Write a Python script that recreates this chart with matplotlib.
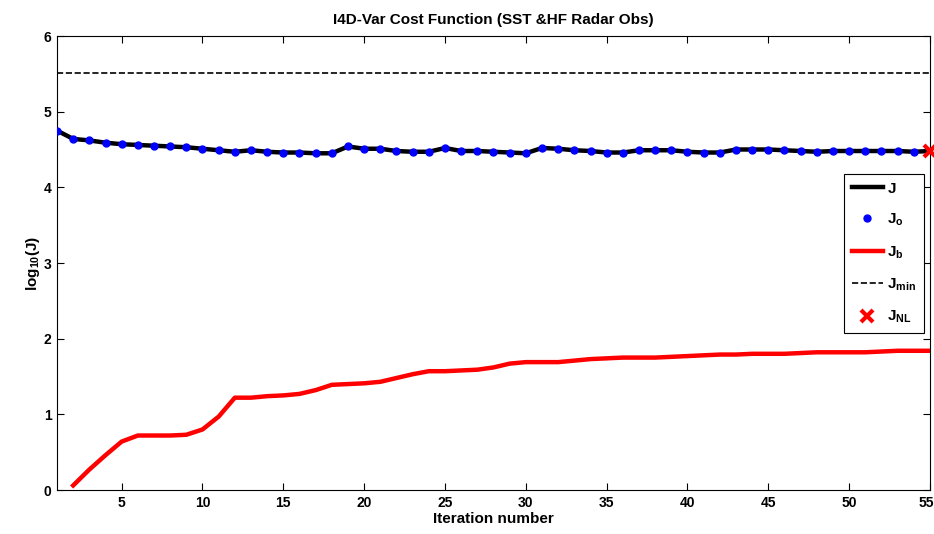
import matplotlib
matplotlib.use("Agg")
import matplotlib.pyplot as plt
from matplotlib import font_manager
import matplotlib.transforms as mtransforms

fams = {f.name for f in font_manager.fontManager.ttflist}
base = "Liberation Sans Narrow" if "Liberation Sans Narrow" in fams else "Liberation Sans"
plt.rcParams['font.family'] = [base, 'DejaVu Sans']
plt.rcParams['font.weight'] = 'bold'
plt.rcParams['mathtext.fontset'] = 'custom'
plt.rcParams['mathtext.rm'] = base + ':bold'
plt.rcParams['mathtext.it'] = base + ':bold'
plt.rcParams['mathtext.bf'] = base + ':bold'
plt.rcParams['mathtext.default'] = 'rm'

# ---- data ----
iterations = list(range(1, 56))
J = [4.75, 4.64, 4.62, 4.59, 4.57, 4.56, 4.55, 4.54, 4.53, 4.51,
     4.49, 4.47, 4.49, 4.47, 4.46, 4.46, 4.45, 4.45, 4.54, 4.51,
     4.51, 4.48, 4.47, 4.47, 4.52, 4.48, 4.48, 4.47, 4.46, 4.45,
     4.52, 4.51, 4.49, 4.48, 4.46, 4.46, 4.49, 4.49, 4.49, 4.47,
     4.46, 4.46, 4.50, 4.50, 4.50, 4.49, 4.48, 4.47, 4.48, 4.48,
     4.48, 4.48, 4.48, 4.47, 4.48]
Jo = J[:54]
Jo_iter = iterations[:54]
Jb_iter = list(range(2, 56))
Jb = [0.06, 0.27, 0.46, 0.64, 0.72, 0.72, 0.72, 0.73, 0.80,
      0.97, 1.22, 1.22, 1.24, 1.25, 1.27, 1.32, 1.39, 1.40, 1.41,
      1.43, 1.48, 1.53, 1.57, 1.57, 1.58, 1.59, 1.62, 1.67, 1.69,
      1.69, 1.69, 1.71, 1.73, 1.74, 1.75, 1.75, 1.75, 1.76, 1.77,
      1.78, 1.79, 1.79, 1.80, 1.80, 1.80, 1.81, 1.82, 1.82, 1.82,
      1.82, 1.83, 1.84, 1.84, 1.84]
Jmin = 5.51
JNL_iter = 55
JNL = 4.48
xticks = [5, 10, 15, 20, 25, 30, 35, 40, 45, 50, 55]
yticks = [0, 1, 2, 3, 4, 5, 6]

fig = plt.figure(figsize=(9.34, 5.34), dpi=100)
ax = fig.add_axes([57/934, 1-490/534, (930-57)/934, (490-36)/534])

ax.plot(iterations, J, color='black', lw=3.2, label=r'$\mathrm{J}$', zorder=3)
ax.plot(Jo_iter, Jo, 'o', color='blue', ms=5, mec='blue', label=r'$\mathrm{J}_\mathrm{o}$', zorder=4)
ax.plot(Jb_iter, Jb, color='red', lw=3.2, label=r'$\mathrm{J}_\mathrm{b}$', zorder=3)
ax.axhline(Jmin, color='black', ls='--', lw=1.2, label=r'$\mathrm{J}_\mathrm{min}$', zorder=2)
ax.plot([JNL_iter], [JNL], 'x', color='red', ms=9, mew=3, clip_on=False,
        label=r'$\mathrm{J}_\mathrm{NL}$', zorder=5)

ax.set_xlim(1, 55)
ax.set_ylim(0, 6)
ax.set_xticks(xticks)
ax.set_yticks(yticks)
ax.tick_params(direction='in', length=5, width=0.8, top=True, right=True,
               labelsize=10, pad=4)
for lab in ax.get_xticklabels() + ax.get_yticklabels():
    lab.set_fontweight('bold')
# keep the last x tick label inside the figure
last = ax.get_xticklabels()[-1]
last.set_transform(last.get_transform() +
                   mtransforms.ScaledTranslation(-4/100, 0, fig.dpi_scale_trans))
for s in ax.spines.values():
    s.set_linewidth(0.8)

ax.set_xlabel('Iteration number', fontsize=11, fontweight='bold', labelpad=2)
ax.set_ylabel(r'log$_{10}$(J)', fontsize=11, fontweight='bold', labelpad=1)
ax.set_title('I4D-Var Cost Function (SST &HF Radar Obs)', fontsize=11,
             fontweight='bold', pad=9)

leg = ax.legend(loc='upper right', bbox_to_anchor=(0.993, 0.696), fontsize=11,
                handlelength=2.0, labelspacing=1.05, borderpad=0.5,
                handletextpad=0.3, fancybox=False, edgecolor='black',
                framealpha=1, borderaxespad=0)
leg.get_frame().set_linewidth(0.8)

fig.savefig('out.png', dpi=100)
